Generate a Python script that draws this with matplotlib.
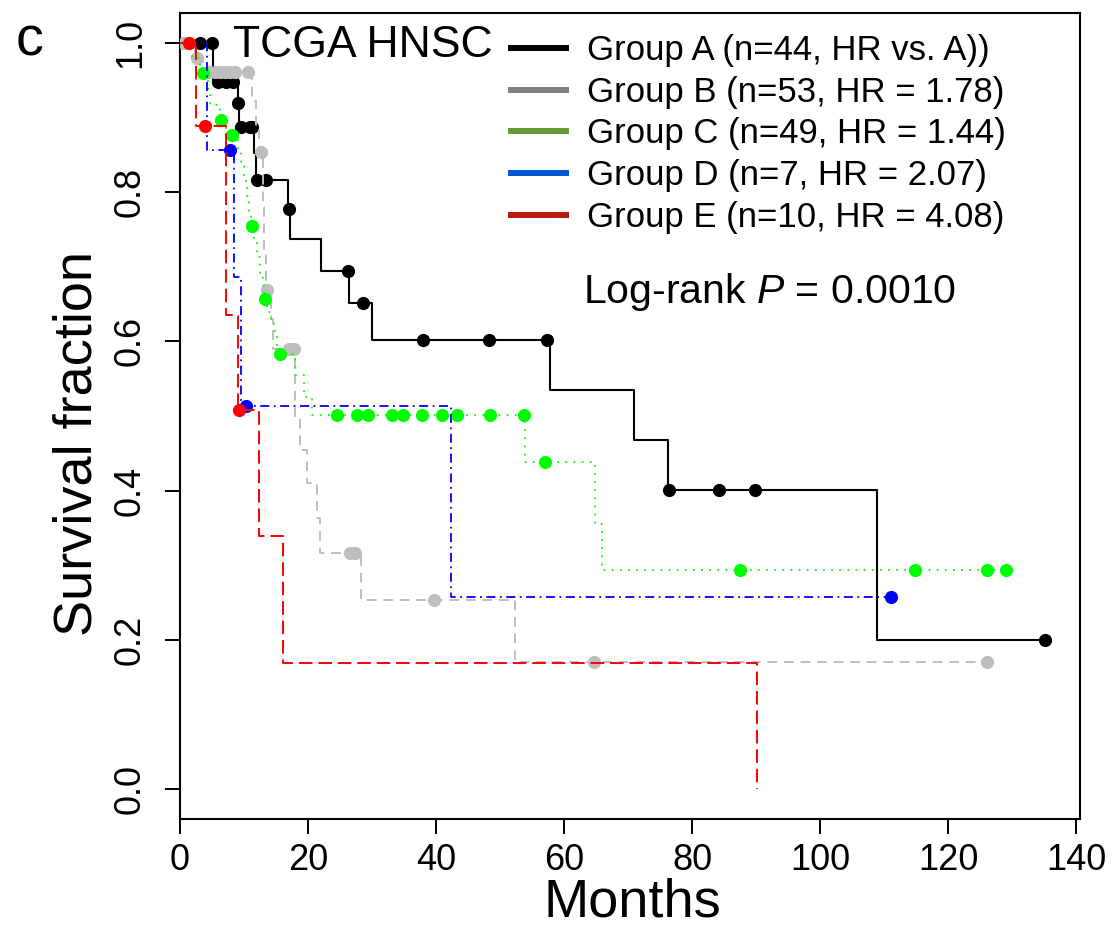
import numpy as np
import matplotlib
matplotlib.use("Agg")
import matplotlib.pyplot as plt
from matplotlib.lines import Line2D

plt.rcParams['font.family'] = ['Liberation Sans', 'DejaVu Sans']
plt.rcParams['mathtext.fontset'] = 'custom'
plt.rcParams['mathtext.rm'] = 'Liberation Sans'
plt.rcParams['mathtext.it'] = 'Liberation Sans:italic'

# Kaplan-Meier estimates per group: event times (months), survival after each event,
# and censoring times
a_event_t = [5.2, 9.0, 9.2, 11.6, 11.8, 16.8, 17.2, 22.0, 26.4, 30.0, 57.8, 71.0, 76.2, 108.9]
a_surv = [0.948, 0.919, 0.887, 0.852, 0.816, 0.777, 0.737, 0.6945, 0.6516, 0.6016,
          0.5348, 0.4679, 0.4011, 0.2005]
a_cens = [3.1, 5.0, 6.0, 7.2, 8.3, 9.0, 9.6, 11.0, 11.3, 12.0, 13.5, 17.0, 26.3, 28.6,
          37.9, 48.2, 57.4, 76.4, 84.2, 89.8, 135.2]

b_event_t = [2.3, 3.6, 11.3, 11.9, 12.3, 13.0, 13.2, 13.4, 14.2, 14.5, 18.0, 18.7, 19.8,
             21.4, 21.8, 28.3, 52.3]
b_surv = [0.980, 0.961, 0.922, 0.883, 0.854, 0.78, 0.72, 0.669, 0.63, 0.590, 0.50, 0.454,
          0.410, 0.363, 0.317, 0.254, 0.170]
b_cens = [0.6, 1.2, 2.7, 4.6, 5.4, 6.2, 7.0, 7.8, 8.6, 10.7, 12.6, 13.6, 17.0, 17.8,
          26.6, 27.3, 39.7, 64.7, 126.0]

c_event_t = [1.8, 3.2, 4.3, 4.7, 6.2, 7.2, 9.0, 9.5, 10.0, 10.4, 10.8, 11.1, 11.6, 12.0,
             12.5, 12.9, 13.2, 13.6, 14.2, 14.8, 15.2, 18.0, 19.3, 20.6, 53.9, 64.8, 65.9]
c_surv = [0.980, 0.959, 0.938, 0.917, 0.897, 0.877, 0.856, 0.835, 0.815, 0.795, 0.775,
          0.754, 0.734, 0.713, 0.692, 0.675, 0.657, 0.640, 0.623, 0.606, 0.583, 0.555,
          0.526, 0.502, 0.439, 0.355, 0.293]
c_cens = [3.6, 6.4, 8.2, 11.3, 13.3, 15.7, 24.5, 27.7, 29.4, 33.1, 34.8, 37.8, 40.9,
          43.2, 48.5, 53.8, 57.0, 87.5, 114.9, 126.0, 129.1]

d_event_t = [4.2, 8.4, 9.6, 42.3]
d_surv = [0.857, 0.686, 0.514, 0.257]
d_cens = [7.8, 10.3, 111.1]

e_event_t = [2.5, 7.2, 9.1, 12.4, 16.1, 90.2]
e_surv = [0.889, 0.635, 0.508, 0.339, 0.169, 0.0]
e_cens = [1.4, 3.9, 9.2]

legend_labels = ['Group A (n=44, HR vs. A))', 'Group B (n=53, HR = 1.78)',
                 'Group C (n=49, HR = 1.44)', 'Group D (n=7, HR = 2.07)',
                 'Group E (n=10, HR = 4.08)']
legend_colors = ['#000000', '#808080', '#669a36', '#0055d4', '#b81c0c']

x_ticks = [0, 20, 40, 60, 80, 100, 120, 140]
y_ticks = [0.0, 0.2, 0.4, 0.6, 0.8, 1.0]


def km_curve(ax, ev_t, surv, cens, color, dashes, lw, z):
    ev_t = np.asarray(ev_t)
    surv = np.asarray(surv)
    cens = np.asarray(cens)
    t_end = max(ev_t.max(), cens.max())
    t = np.concatenate([[0.0], ev_t, [t_end]])
    s = np.concatenate([[1.0], surv, [surv[-1]]])
    line, = ax.step(t, s, where='post', color=color, lw=lw, zorder=z)
    if dashes is not None:
        line.set_dashes(dashes)
    # survival at each censoring time
    idx = np.searchsorted(ev_t, cens, side='right')
    s_cens = np.where(idx > 0, surv[np.maximum(idx - 1, 0)], 1.0)
    ax.plot(cens, s_cens, 'o', color=color, ms=9.5, mec='none', zorder=z + 0.5)


W, H = 1115, 938
fig = plt.figure(figsize=(W / 100, H / 100), dpi=100)
ax = fig.add_axes([180 / W, 1 - 819 / H, 900 / W, 806 / H])

km_curve(ax, a_event_t, a_surv, a_cens, '#000000', None, 1.5, 2)
km_curve(ax, b_event_t, b_surv, b_cens, '#bebebe', (5, 3.5), 1.4, 3)
km_curve(ax, c_event_t, c_surv, c_cens, '#00ff00', (1, 3.5), 1.3, 4)
km_curve(ax, d_event_t, d_surv, d_cens, '#0000ff', (1, 2.5, 5, 2.5), 1.3, 5)
km_curve(ax, e_event_t, e_surv, e_cens, '#ff0000', (7, 3), 1.4, 6)

ax.set_xlim(0, 140.6)
ax.set_ylim(-0.04, 1.04)
ax.set_xticks(x_ticks)
ax.set_xticklabels([str(v) for v in x_ticks])
ax.set_yticks(y_ticks)
ax.set_yticklabels(['%.1f' % v for v in y_ticks], rotation=90, va='center')
ax.tick_params(axis='both', length=11, width=1.4, labelsize=26, direction='out')
ax.tick_params(axis='x', pad=6)
ax.tick_params(axis='y', pad=12)
for sp in ax.spines.values():
    sp.set_linewidth(1.5)

fig.text(78 / W, 1 - 444 / H, 'Survival fraction', rotation=90, ha='center', va='center',
         fontsize=39)
fig.text(632 / W, 1 - 916 / H, 'Months', ha='center', va='baseline', fontsize=39)
fig.text(16 / W, 1 - 55 / H, 'c', ha='left', va='baseline', fontsize=40)
fig.text(233 / W, 1 - 57 / H, 'TCGA HNSC', ha='left', va='baseline', fontsize=32)
fig.text(583 / W, 1 - 303 / H, 'Log-rank $P$ = 0.0010', ha='left', va='baseline',
         fontsize=29.5)

handles = [Line2D([0], [0], color=c, lw=4.3) for c in legend_colors]
fig.legend(handles, legend_labels, loc='upper left', bbox_to_anchor=(511 / W, 1 - 34 / H),
           frameon=False, fontsize=25, handlelength=1.58, handletextpad=0.6,
           labelspacing=0.25, borderpad=0, borderaxespad=0)

fig.savefig('out.png', dpi=100)
